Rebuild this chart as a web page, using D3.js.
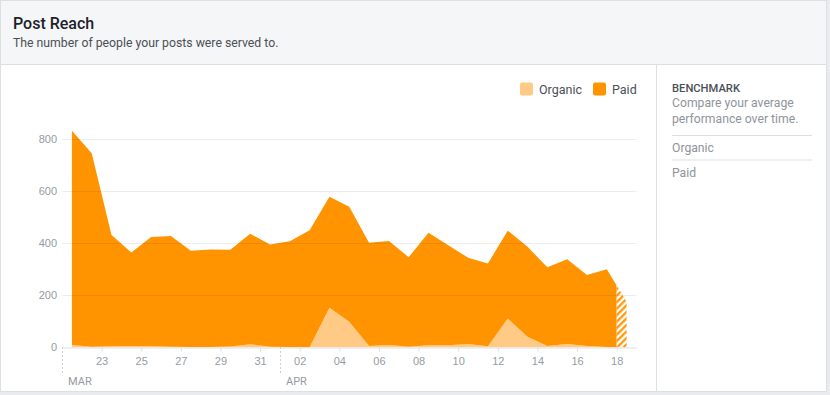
<!DOCTYPE html>
<html>
<head>
<meta charset="utf-8">
<script src="https://cdn.jsdelivr.net/npm/d3@7"></script>
<style>
  html, body { margin: 0; padding: 0; background: #e9ebee; }
  svg { display: block; font-family: Roboto, "Liberation Sans", Arial, sans-serif; }
</style>
</head>
<body>
<svg id="chart" width="830" height="395"></svg>
<script>
// ---- data ----
const dates = ["2018-03-21","2018-03-22","2018-03-23","2018-03-24","2018-03-25","2018-03-26","2018-03-27",
  "2018-03-28","2018-03-29","2018-03-30","2018-03-31","2018-04-01","2018-04-02","2018-04-03","2018-04-04",
  "2018-04-05","2018-04-06","2018-04-07","2018-04-08","2018-04-09","2018-04-10","2018-04-11","2018-04-12",
  "2018-04-13","2018-04-14","2018-04-15","2018-04-16","2018-04-17","2018-04-18"];
const organic = [9,2,4,5,4,2,1,1,3,12,2,1,0,152,98,5,9,2,8,8,13,4,111,41,5,13,5,1,0];
const paid = [823,743,427,359,420,425,370,375,372,424,393,406,450,426,442,397,399,344,432,384,331,318,337,345,302,325,273,299,175];
const seriesNames = ["Organic","Paid"];
const yTicks = [0,200,400,600,800];
const xTickDates = ["2018-03-23","2018-03-25","2018-03-27","2018-03-29","2018-03-31","2018-04-02","2018-04-04",
  "2018-04-06","2018-04-08","2018-04-10","2018-04-12","2018-04-14","2018-04-16","2018-04-18"];
const monthStarts = ["2018-03-21","2018-04-01"];
const monthLabels = ["MAR","APR"];
const domainDates = ["2018-03-21","2018-04-19"];
const partialStart = "2018-04-18";
const benchmarkItems = ["Organic","Paid"];

const colors = { Organic: "#ffca85", Paid: "#ff9400" };

const parse = d3.utcParse("%Y-%m-%d");
const noon = s => d3.utcHour.offset(parse(s), 12);

const table = dates.map((d, i) => ({ date: noon(d), Organic: organic[i], Paid: paid[i] }));

const svg = d3.select("#chart");

// ---- card frame ----
svg.append("rect").attr("x", 0.5).attr("y", 0.5).attr("width", 826).attr("height", 391)
  .attr("fill", "#fff").attr("stroke", "#dddfe2");
svg.append("rect").attr("x", 1).attr("y", 1).attr("width", 825).attr("height", 63).attr("fill", "#f5f6f7");
svg.append("line").attr("x1", 1).attr("x2", 826).attr("y1", 64.5).attr("y2", 64.5).attr("stroke", "#dddfe2");
svg.append("text").attr("x", 13).attr("y", 29).attr("font-size", 16).attr("font-weight", 500)
  .attr("fill", "#1d2129").text("Post Reach");
svg.append("text").attr("x", 13).attr("y", 47).attr("font-size", 12.25)
  .attr("fill", "#4b4f56").text("The number of people your posts were served to.");

// right panel
svg.append("line").attr("x1", 656.5).attr("x2", 656.5).attr("y1", 65).attr("y2", 391).attr("stroke", "#dddfe2");
svg.append("text").attr("x", 672).attr("y", 91.5).attr("font-size", 11.2).attr("font-weight", 500)
  .attr("fill", "#4b4f56").text("BENCHMARK");
svg.append("text").attr("x", 672).attr("y", 106.5).attr("font-size", 12.2).attr("fill", "#90949c").text("Compare your average");
svg.append("text").attr("x", 672).attr("y", 122.5).attr("font-size", 12.2).attr("fill", "#90949c").text("performance over time.");
benchmarkItems.forEach((t, i) => {
  svg.append("line").attr("x1", 672).attr("x2", 812).attr("y1", 135.5 + i * 24.5).attr("y2", 135.5 + i * 24.5)
    .attr("stroke", "#dddfe2");
  svg.append("text").attr("x", 672).attr("y", 152 + i * 24.5).attr("font-size", 12.2).attr("fill", "#90949c").text(t);
});

// ---- scales ----
const x = d3.scaleUtc().domain(domainDates.map(parse)).range([62, 636.5]);
const y = d3.scaleLinear().domain([0, 800]).range([347.3, 139]);

// ---- defs: clip + hatch ----
const defs = svg.append("defs");
const xPart = x(parse(partialStart));
defs.append("clipPath").attr("id", "solidClip").append("rect")
  .attr("x", 0).attr("y", 0).attr("width", xPart).attr("height", 395);
defs.append("clipPath").attr("id", "hatchClip").append("rect")
  .attr("x", xPart).attr("y", 0).attr("width", 830 - xPart).attr("height", 395);
seriesNames.forEach(k => {
  const p = defs.append("pattern").attr("id", "hatch-" + k).attr("patternUnits", "userSpaceOnUse")
    .attr("width", 4.6).attr("height", 4.6).attr("patternTransform", "rotate(45)");
  p.append("rect").attr("width", 4.6).attr("height", 4.6).attr("fill", "#fff");
  p.append("line").attr("x1", 1.2).attr("x2", 1.2).attr("y1", 0).attr("y2", 4.6)
    .attr("stroke", colors[k]).attr("stroke-width", 2.2);
});

// ---- areas ----
const stack = d3.stack().keys(seriesNames);
const layers = stack(table);
const area = d3.area().x(d => x(d.data.date)).y0(d => y(d[0])).y1(d => y(d[1]));

const gSolid = svg.append("g").attr("clip-path", "url(#solidClip)");
gSolid.selectAll("path").data(layers).join("path")
  .attr("d", area).attr("fill", d => colors[d.key]);
const gHatch = svg.append("g").attr("clip-path", "url(#hatchClip)");
gHatch.selectAll("path").data(layers).join("path")
  .attr("d", area).attr("fill", d => "url(#hatch-" + d.key + ")");

// ---- grid (over areas) ----
svg.append("g").selectAll("line").data(yTicks.filter(v => v > 0)).join("line")
  .attr("x1", 62).attr("x2", 636.5).attr("y1", d => Math.round(y(d)) + 0.5).attr("y2", d => Math.round(y(d)) + 0.5)
  .attr("stroke", "rgba(0,0,0,0.07)");

// y axis labels
const yAxis = d3.axisLeft(y).tickValues(yTicks).tickSize(0).tickPadding(0);
const gy = svg.append("g").attr("transform", "translate(57,0)").call(yAxis);
gy.select(".domain").remove();
gy.selectAll("text").attr("font-size", 11).attr("fill", "#949ca3").attr("font-family", null);

// x axis
const xAxis = d3.axisBottom(x).tickValues(xTickDates.map(parse)).tickFormat(d3.utcFormat("%d"))
  .tickSize(4).tickPadding(6).tickSizeOuter(0);
const gx = svg.append("g").attr("transform", "translate(0,347.5)").call(xAxis);
gx.select(".domain").attr("stroke", "#dddfe2");
gx.selectAll(".tick line").attr("stroke", "#dddfe2");
gx.selectAll("text").attr("font-size", 11).attr("fill", "#949ca3").attr("font-family", null);

// month separators
monthStarts.forEach((m, i) => {
  const mx = Math.round(x(parse(m))) + 0.5;
  svg.append("line").attr("x1", mx).attr("x2", mx).attr("y1", 347).attr("y2", 374)
    .attr("stroke", "#ccd0d5").attr("stroke-dasharray", "2,2");
  svg.append("text").attr("x", mx + 5.5).attr("y", 384.5).attr("font-size", 11).attr("fill", "#949ca3")
    .text(monthLabels[i]);
});

// ---- legend ----
const legendX = [520, 593];
seriesNames.forEach((k, i) => {
  svg.append("rect").attr("x", legendX[i]).attr("y", 82.5).attr("width", 13).attr("height", 13)
    .attr("rx", 2).attr("fill", colors[k]);
  svg.append("text").attr("x", legendX[i] + 19).attr("y", 93.5).attr("font-size", 12.5)
    .attr("fill", "#4b4f56").text(k);
});
</script>
</body>
</html>
